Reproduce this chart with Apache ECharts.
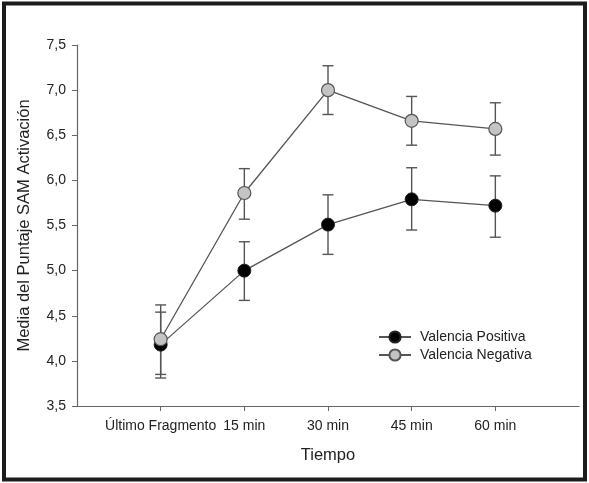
<!DOCTYPE html>
<html>
<head>
<meta charset="utf-8">
<script src="https://cdn.jsdelivr.net/npm/echarts@6/dist/echarts.min.js"></script>
<style>
  html, body { margin: 0; padding: 0; background: #fff; }
  #chart { width: 589px; height: 483px; }
</style>
</head>
<body>
<div id="chart"></div>
<script>
// categorias del eje X
var categorias = ['Último Fragmento', '15 min', '30 min', '45 min', '60 min'];

// Valencia Positiva: media y extremos de la barra de error
var positivaMedia = [4.18, 5.00, 5.51, 5.79, 5.72];
var positivaInf = [3.81, 4.67, 5.18, 5.45, 5.37];
var positivaSup = [4.54, 5.32, 5.84, 6.14, 6.05];

// Valencia Negativa
var negativaMedia = [4.24, 5.86, 7.00, 6.66, 6.57];
var negativaInf = [3.85, 5.57, 6.73, 6.39, 6.28];
var negativaSup = [4.62, 6.13, 7.27, 6.93, 6.86];

var posiciones = [0, 1, 2, 3, 4];

function puntos(medias) {
    return medias.map(function (v, i) { return [posiciones[i], v]; });
}

function errores(inf, sup) {
    return inf.map(function (v, i) { return [posiciones[i], v, sup[i]]; });
}

/**
 * dibuja una barra de error con sus topes
 */
function barraError(params, api) {
    var x = api.value(0);
    var arriba = api.coord([x, api.value(2)]);
    var abajo = api.coord([x, api.value(1)]);
    var tope = 5.5;
    var estilo = { stroke: '#555', lineWidth: 1.4 };
    return {
        type: 'group',
        children: [
            { type: 'line', shape: { x1: arriba[0], y1: arriba[1], x2: abajo[0], y2: abajo[1] }, style: estilo },
            { type: 'line', shape: { x1: arriba[0] - tope, y1: arriba[1], x2: arriba[0] + tope, y2: arriba[1] }, style: estilo },
            { type: 'line', shape: { x1: abajo[0] - tope, y1: abajo[1], x2: abajo[0] + tope, y2: abajo[1] }, style: estilo }
        ]
    };
}

var chartDom = document.getElementById('chart');
var myChart = echarts.init(chartDom);
var fuente = 'Liberation Sans, Arial, sans-serif';

var option = {
    animation: false,
    textStyle: { fontFamily: fuente },
    graphic: [{
        type: 'rect',
        shape: { x: 4, y: 3.5, width: 581, height: 476 },
        style: { fill: 'none', stroke: '#1c1c1c', lineWidth: 4 },
        z: 100
    }],
    grid: { left: 77, top: 45, right: 10, bottom: 77 },
    legend: {
        orient: 'vertical',
        left: 378,
        top: 330,
        padding: 0,
        itemWidth: 32,
        itemHeight: 14,
        itemGap: 4,
        textStyle: { fontFamily: fuente, fontSize: 14, color: '#222', padding: [0, 0, 0, 4] },
        data: ['Valencia Positiva', 'Valencia Negativa']
    },
    xAxis: {
        type: 'value',
        min: -1,
        max: 5,
        name: 'Tiempo',
        nameLocation: 'middle',
        nameGap: 41,
        nameTextStyle: { fontFamily: fuente, fontSize: 16.5, color: '#222' },
        splitLine: { show: false },
        axisLine: { onZero: false, lineStyle: { color: '#666', width: 1.2 } },
        axisTick: { customValues: posiciones, length: 5, lineStyle: { color: '#666' } },
        axisLabel: {
            customValues: posiciones,
            margin: 13,
            fontFamily: fuente,
            fontSize: 14,
            color: '#222',
            formatter: function (v) { return categorias[v]; }
        }
    },
    yAxis: {
        type: 'value',
        min: 3.5,
        max: 7.5,
        interval: 0.5,
        name: 'Media del Puntaje SAM Activación',
        nameLocation: 'middle',
        nameGap: 44,
        nameTextStyle: { fontFamily: fuente, fontSize: 16.5, color: '#222' },
        splitLine: { show: false },
        axisLine: { show: true, onZero: false, lineStyle: { color: '#666', width: 1.2 } },
        axisTick: { show: true, length: 5, lineStyle: { color: '#666' } },
        axisLabel: {
            margin: 11,
            fontFamily: fuente,
            fontSize: 14,
            color: '#222',
            formatter: function (v) { return v.toFixed(1).replace('.', ','); }
        }
    },
    series: [
        {
            name: 'err-positiva',
            type: 'custom',
            renderItem: barraError,
            data: errores(positivaInf, positivaSup),
            z: 1
        },
        {
            name: 'err-negativa',
            type: 'custom',
            renderItem: barraError,
            data: errores(negativaInf, negativaSup),
            z: 1
        },
        {
            name: 'Valencia Positiva',
            type: 'line',
            data: puntos(positivaMedia),
            symbol: 'circle',
            symbolSize: 13,
            lineStyle: { color: '#555', width: 1.3 },
            itemStyle: { color: '#000', borderColor: '#222', borderWidth: 1 },
            z: 3
        },
        {
            name: 'Valencia Negativa',
            type: 'line',
            data: puntos(negativaMedia),
            symbol: 'circle',
            symbolSize: 13,
            lineStyle: { color: '#555', width: 1.3 },
            itemStyle: { color: '#c4c4c4', borderColor: '#555', borderWidth: 1.2 },
            z: 4
        }
    ]
};

option && myChart.setOption(option);
</script>
</body>
</html>
